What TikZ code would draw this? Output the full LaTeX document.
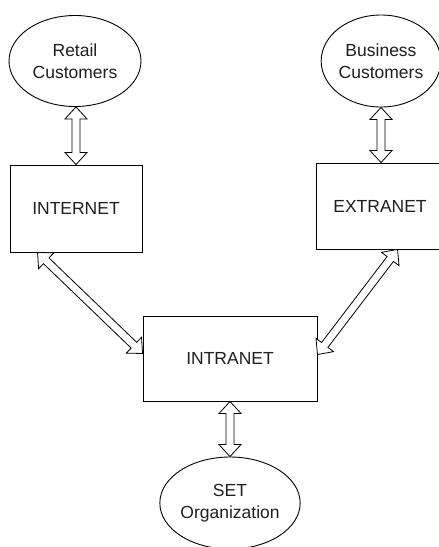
\documentclass[tikz,border=0pt]{standalone}
\usepackage{fontspec}
\setmainfont{Liberation Sans}
\usetikzlibrary{calc,shapes.geometric}
\newcommand\hollowarrow[2]{%
  \draw[arrowline] (#1)
    -- ($(#1)!12pt!(#2)!11pt!90:(#2)$)
    -- ($(#1)!12pt!(#2)!4pt!90:(#2)$)
    -- ($(#2)!12pt!(#1)!4pt!-90:(#1)$)
    -- ($(#2)!12pt!(#1)!11pt!-90:(#1)$)
    -- (#2)
    -- ($(#2)!12pt!(#1)!11pt!90:(#1)$)
    -- ($(#2)!12pt!(#1)!4pt!90:(#1)$)
    -- ($(#1)!12pt!(#2)!4pt!-90:(#2)$)
    -- ($(#1)!12pt!(#2)!11pt!-90:(#2)$)
    -- cycle;}
\begin{document}
\begin{tikzpicture}[x=1pt,y=-1pt,
  lbl/.style={font=\fontsize{17.5}{22}\selectfont, text=black!88, align=center},
  boxnode/.style={lbl, draw=black, line width=0.9pt, inner sep=0pt, fill=white},
  ellnode/.style={lbl, draw=black, ellipse, line width=0.9pt, inner sep=0pt, fill=white},
  arrowline/.style={draw=black, line width=0.8pt, fill=white, line join=miter}]
\useasboundingbox[fill=white] (0,0) rectangle (439,547);

\node[ellnode, minimum width=132pt, minimum height=91pt] (ret) at (75,61) {Retail\\Customers};
\node[ellnode, minimum width=118pt, minimum height=92pt] (bus) at (381,61) {Business\\Customers};
\node[boxnode, minimum width=132pt, minimum height=87pt] (inet) at (76,208.5) {INTERNET};
\node[boxnode, minimum width=128pt, minimum height=86pt] (ext) at (380,206) {EXTRANET};
\node[boxnode, minimum width=174pt, minimum height=85pt] (intra) at (230,358.5) {INTRANET};
\node[ellnode, minimum width=132pt, minimum height=92pt] (set) at (230,503) {SET\\Organization};

\coordinate (a1) at (inet.north);
\coordinate (a2) at (inet.north |- ret.south);
\coordinate (b1) at (bus.south);
\coordinate (b2) at (bus.south |- ext.north);
\coordinate (c1) at (intra.south);
\coordinate (c2) at (intra.south |- set.north);
\coordinate (l1) at ($(inet.south west)+(28,0)$);
\coordinate (l2) at ($(intra.west)+(0,-5)$);
\coordinate (r1) at ($(ext.south west)+(82,0)$);
\coordinate (r2) at ($(intra.east)+(0,-4)$);

\hollowarrow{a2}{a1}
\hollowarrow{b1}{b2}
\hollowarrow{c1}{c2}
\hollowarrow{l1}{l2}
\hollowarrow{r1}{r2}
\end{tikzpicture}
\end{document}
